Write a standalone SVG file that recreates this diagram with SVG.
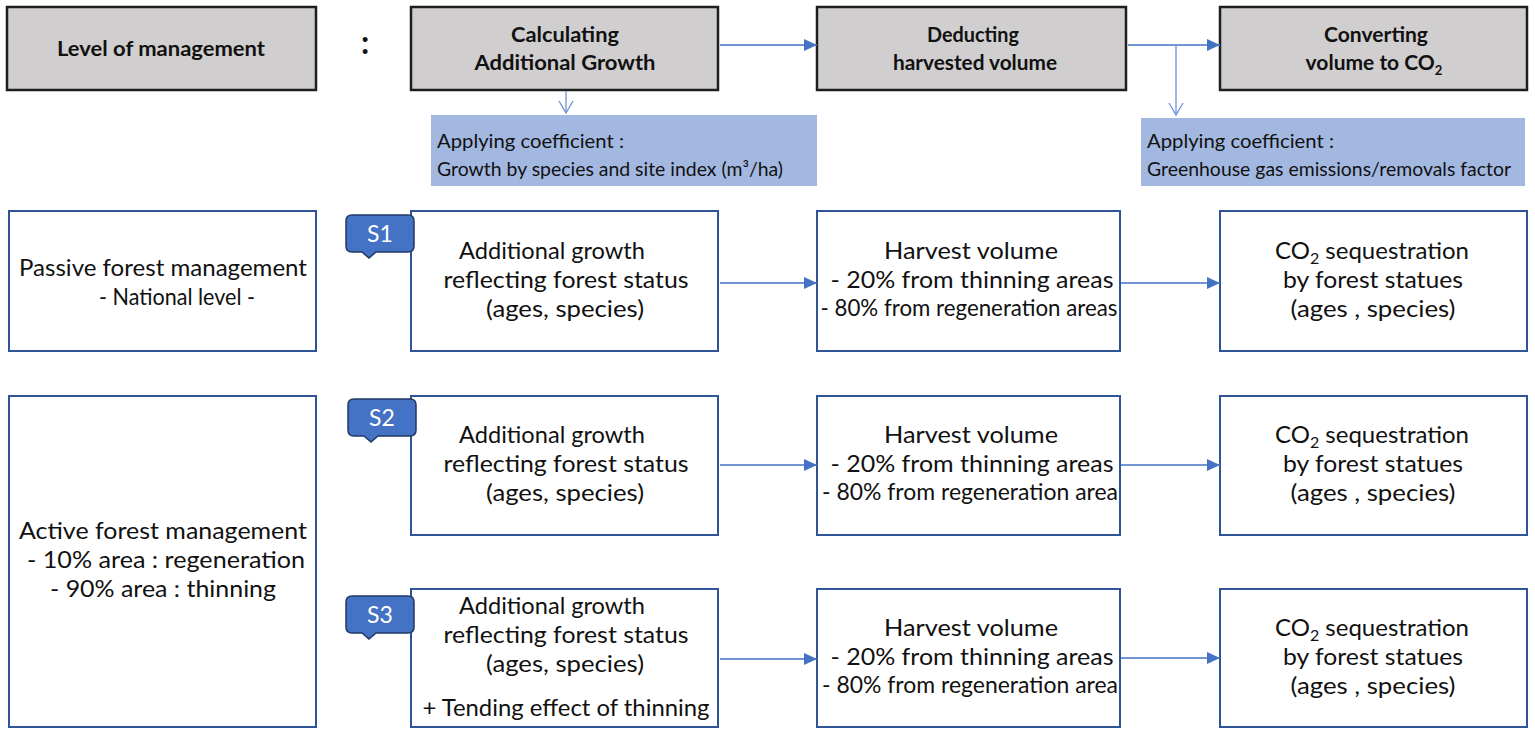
<svg xmlns="http://www.w3.org/2000/svg" width="1535" height="735" viewBox="0 0 1535 735">
<style>
  .hdr { fill: #d0cece; stroke: #1e1e1e; stroke-width: 2.5; }
  .node { fill: #ffffff; stroke: #2f5597; stroke-width: 2; }
  .coef { fill: #a3b8e1; stroke: none; }
  .tag { fill: #4472c4; stroke: #203864; stroke-width: 1.5; }
  .ht { font-family: Lato, "Liberation Sans", sans-serif; font-weight: bold; font-size: 21px; fill: #111; text-anchor: middle; }
  .colon { font-family: Lato, "Liberation Sans", sans-serif; font-weight: bold; font-size: 32px; fill: #111; text-anchor: middle; }
  .t { font-family: Lato, "Liberation Sans", sans-serif; font-size: 24px; fill: #111; text-anchor: middle; }
  .ts { font-family: Lato, "Liberation Sans", sans-serif; font-size: 23px; fill: #111; text-anchor: middle; }
  .ct { font-family: Lato, "Liberation Sans", sans-serif; font-size: 20px; fill: #111; }
  .cs { font-family: Lato, "Liberation Sans", sans-serif; font-size: 19px; fill: #111; }
  .tt { font-family: Lato, "Liberation Sans", sans-serif; font-size: 23px; fill: #ffffff; text-anchor: middle; }
  .conn { stroke: #4472c4; stroke-width: 1.5; fill: none; }
  .thin { stroke: #6f8fd6; stroke-width: 1.3; fill: none; }
</style>
<defs>
  <marker id="arr" markerUnits="userSpaceOnUse" markerWidth="14" markerHeight="12" refX="13" refY="6" orient="auto">
    <path d="M0,0 L13,6 L0,12 Z" fill="#4472c4"/>
  </marker>
  <marker id="vee" markerUnits="userSpaceOnUse" markerWidth="16" markerHeight="16" refX="13" refY="8" orient="auto">
    <path d="M1,1 L13,8 L1,15" fill="none" stroke="#6f8fd6" stroke-width="1.3"/>
  </marker>
</defs>

<!-- Header row -->
<g id="hdr-level">
  <rect class="hdr" x="7" y="7" width="309" height="83"/>
  <text class="ht" x="161" y="56" textLength="208" lengthAdjust="spacingAndGlyphs">Level of management</text>
</g>
<g id="hdr-colon">
  <text class="colon" x="365" y="54">:</text>
</g>
<g id="hdr-calc">
  <rect class="hdr" x="411" y="7" width="307" height="83"/>
  <text class="ht" x="565" y="42" textLength="108" lengthAdjust="spacingAndGlyphs">Calculating</text>
  <text class="ht" x="565" y="70" textLength="181" lengthAdjust="spacingAndGlyphs">Additional Growth</text>
</g>
<g id="hdr-deduct">
  <rect class="hdr" x="817" y="7" width="309" height="83"/>
  <text class="ht" x="973" y="42" textLength="92" lengthAdjust="spacingAndGlyphs">Deducting</text>
  <text class="ht" x="975" y="70" textLength="164" lengthAdjust="spacingAndGlyphs">harvested volume</text>
</g>
<g id="hdr-convert">
  <rect class="hdr" x="1220" y="7" width="307" height="83"/>
  <text class="ht" x="1376" y="42" textLength="104" lengthAdjust="spacingAndGlyphs">Converting</text>
  <text class="ht" x="1374" y="70">volume to CO<tspan font-size="13" dy="5">2</tspan></text>
</g>

<!-- Coefficient boxes -->
<g id="coef-growth">
  <rect class="coef" x="431" y="115" width="386" height="71"/>
  <text class="ct" x="437" y="148" textLength="187" lengthAdjust="spacingAndGlyphs">Applying coefficient :</text>
  <text class="cs" x="437" y="176" textLength="346" lengthAdjust="spacingAndGlyphs">Growth by species and site index (m³/ha)</text>
</g>
<g id="coef-ghg">
  <rect class="coef" x="1141" y="118" width="384" height="68"/>
  <text class="ct" x="1147" y="148" textLength="187" lengthAdjust="spacingAndGlyphs">Applying coefficient :</text>
  <text class="cs" x="1147" y="176" textLength="364" lengthAdjust="spacingAndGlyphs">Greenhouse gas emissions/removals factor</text>
</g>

<!-- Level boxes -->
<g id="passive">
  <rect class="node" x="9" y="211" width="307" height="140"/>
  <text class="t" x="163" y="276" textLength="288" lengthAdjust="spacingAndGlyphs">Passive forest management</text>
  <text class="t" x="177" y="305" textLength="156" lengthAdjust="spacingAndGlyphs">- National level -</text>
</g>
<g id="active">
  <rect class="node" x="9" y="396" width="307" height="331"/>
  <text class="t" x="163" y="539" textLength="288" lengthAdjust="spacingAndGlyphs">Active forest management</text>
  <text class="t" x="166" y="568" textLength="278" lengthAdjust="spacingAndGlyphs">- 10% area : regeneration</text>
  <text class="t" x="163" y="597" textLength="226" lengthAdjust="spacingAndGlyphs">- 90% area : thinning</text>
</g>

<!-- Row 1 -->
<g id="s1-growth">
  <rect class="node" x="411" y="211" width="307" height="140"/>
  <text class="t" x="552" y="259" textLength="186" lengthAdjust="spacingAndGlyphs">Additional growth</text>
  <text class="t" x="566" y="288" textLength="245" lengthAdjust="spacingAndGlyphs">reflecting forest status</text>
  <text class="t" x="565" y="317" textLength="158" lengthAdjust="spacingAndGlyphs">(ages, species)</text>
</g>
<g id="s1-tag">
  <path class="tag" d="M352,215 H408 Q414,215 414,221 V246 Q414,252 408,252 H376 L369,258 L362,252 H352 Q346,252 346,246 V221 Q346,215 352,215 Z"/>
  <text class="tt" x="380" y="242">S1</text>
</g>
<g id="s1-harvest">
  <rect class="node" x="817" y="211" width="303" height="140"/>
  <text class="t" x="971" y="259" textLength="174" lengthAdjust="spacingAndGlyphs">Harvest volume</text>
  <text class="t" x="972" y="288" textLength="283" lengthAdjust="spacingAndGlyphs">- 20% from thinning areas</text>
  <text class="ts" x="969" y="316" textLength="297" lengthAdjust="spacingAndGlyphs">- 80% from regeneration areas</text>
</g>
<g id="s1-co2">
  <rect class="node" x="1220" y="211" width="307" height="140"/>
  <text class="t" x="1372" y="259">CO<tspan font-size="16" dy="5">2</tspan><tspan dy="-5"> sequestration</tspan></text>
  <text class="t" x="1373" y="288" textLength="180" lengthAdjust="spacingAndGlyphs">by forest statues</text>
  <text class="t" x="1373" y="317" textLength="165" lengthAdjust="spacingAndGlyphs">(ages , species)</text>
</g>

<!-- Row 2 -->
<g id="s2-growth">
  <rect class="node" x="411" y="396" width="307" height="139"/>
  <text class="t" x="552" y="443" textLength="186" lengthAdjust="spacingAndGlyphs">Additional growth</text>
  <text class="t" x="566" y="472" textLength="245" lengthAdjust="spacingAndGlyphs">reflecting forest status</text>
  <text class="t" x="565" y="501" textLength="158" lengthAdjust="spacingAndGlyphs">(ages, species)</text>
</g>
<g id="s2-tag">
  <path class="tag" d="M354,399 H410 Q416,399 416,405 V430 Q416,436 410,436 H378 L371,442 L364,436 H354 Q348,436 348,430 V405 Q348,399 354,399 Z"/>
  <text class="tt" x="382" y="426">S2</text>
</g>
<g id="s2-harvest">
  <rect class="node" x="817" y="396" width="303" height="139"/>
  <text class="t" x="971" y="443" textLength="174" lengthAdjust="spacingAndGlyphs">Harvest volume</text>
  <text class="t" x="972" y="472" textLength="283" lengthAdjust="spacingAndGlyphs">- 20% from thinning areas</text>
  <text class="ts" x="970" y="500" textLength="296" lengthAdjust="spacingAndGlyphs">- 80% from regeneration area</text>
</g>
<g id="s2-co2">
  <rect class="node" x="1220" y="396" width="307" height="139"/>
  <text class="t" x="1372" y="443">CO<tspan font-size="16" dy="5">2</tspan><tspan dy="-5"> sequestration</tspan></text>
  <text class="t" x="1373" y="472" textLength="180" lengthAdjust="spacingAndGlyphs">by forest statues</text>
  <text class="t" x="1373" y="501" textLength="165" lengthAdjust="spacingAndGlyphs">(ages , species)</text>
</g>

<!-- Row 3 -->
<g id="s3-growth">
  <rect class="node" x="411" y="589" width="307" height="138"/>
  <text class="t" x="552" y="614" textLength="186" lengthAdjust="spacingAndGlyphs">Additional growth</text>
  <text class="t" x="566" y="643" textLength="245" lengthAdjust="spacingAndGlyphs">reflecting forest status</text>
  <text class="t" x="565" y="672" textLength="158" lengthAdjust="spacingAndGlyphs">(ages, species)</text>
  <text class="t" x="566" y="716" textLength="287" lengthAdjust="spacingAndGlyphs">+ Tending effect of thinning</text>
</g>
<g id="s3-tag">
  <path class="tag" d="M352,596 H408 Q414,596 414,602 V627 Q414,633 408,633 H376 L369,639 L362,633 H352 Q346,633 346,627 V602 Q346,596 352,596 Z"/>
  <text class="tt" x="380" y="623">S3</text>
</g>
<g id="s3-harvest">
  <rect class="node" x="817" y="589" width="303" height="138"/>
  <text class="t" x="971" y="636" textLength="174" lengthAdjust="spacingAndGlyphs">Harvest volume</text>
  <text class="t" x="972" y="665" textLength="283" lengthAdjust="spacingAndGlyphs">- 20% from thinning areas</text>
  <text class="ts" x="970" y="693" textLength="296" lengthAdjust="spacingAndGlyphs">- 80% from regeneration area</text>
</g>
<g id="s3-co2">
  <rect class="node" x="1220" y="589" width="307" height="138"/>
  <text class="t" x="1372" y="636">CO<tspan font-size="16" dy="5">2</tspan><tspan dy="-5"> sequestration</tspan></text>
  <text class="t" x="1373" y="665" textLength="180" lengthAdjust="spacingAndGlyphs">by forest statues</text>
  <text class="t" x="1373" y="694" textLength="165" lengthAdjust="spacingAndGlyphs">(ages , species)</text>
</g>

<!-- Connectors -->
<g id="connectors">
  <line class="conn" x1="720" y1="45" x2="817" y2="45" marker-end="url(#arr)"/>
  <line class="conn" x1="1128" y1="45" x2="1220" y2="45" marker-end="url(#arr)"/>
  <line class="thin" x1="1176" y1="45" x2="1176" y2="115" marker-end="url(#vee)"/>
  <line class="thin" x1="566" y1="91" x2="566" y2="113" marker-end="url(#vee)"/>
  <line class="conn" x1="720" y1="283" x2="817" y2="283" marker-end="url(#arr)"/>
  <line class="conn" x1="1121" y1="283" x2="1220" y2="283" marker-end="url(#arr)"/>
  <line class="conn" x1="720" y1="465" x2="817" y2="465" marker-end="url(#arr)"/>
  <line class="conn" x1="1121" y1="465" x2="1220" y2="465" marker-end="url(#arr)"/>
  <line class="conn" x1="720" y1="659" x2="817" y2="659" marker-end="url(#arr)"/>
  <line class="conn" x1="1121" y1="658" x2="1220" y2="658" marker-end="url(#arr)"/>
</g>
</svg>
